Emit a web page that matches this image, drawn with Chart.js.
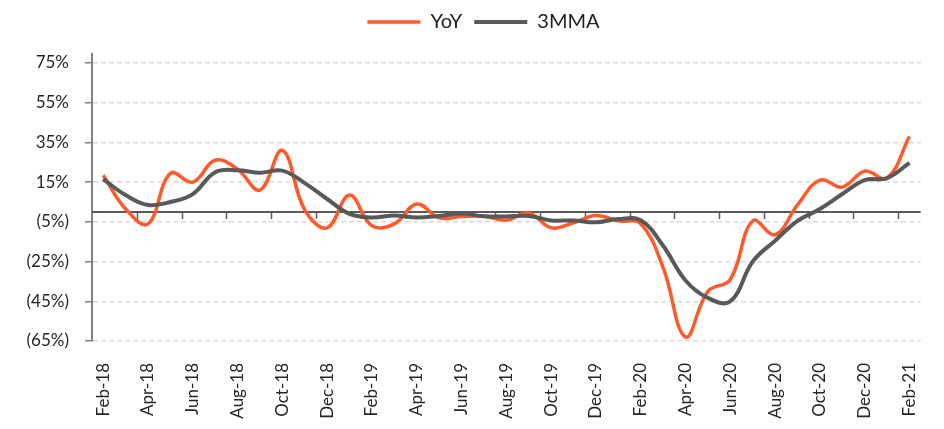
<!DOCTYPE html>
<html>
<head>
<meta charset="utf-8">
<script src="https://cdn.jsdelivr.net/npm/chart.js@4"></script>
<style>
  html, body { margin: 0; padding: 0; background: #fff; }
  #wrap { width: 944px; height: 429px; }
</style>
</head>
<body>
<div id="wrap"><canvas id="chart"></canvas></div>
<script>
// monthly labels, Feb-18 .. Feb-21
const months = [
  "Feb-18", "Mar-18", "Apr-18", "May-18", "Jun-18", "Jul-18", "Aug-18", "Sep-18", "Oct-18", "Nov-18", "Dec-18",
  "Jan-19", "Feb-19", "Mar-19", "Apr-19", "May-19", "Jun-19", "Jul-19", "Aug-19", "Sep-19", "Oct-19", "Nov-19", "Dec-19",
  "Jan-20", "Feb-20", "Mar-20", "Apr-20", "May-20", "Jun-20", "Jul-20", "Aug-20", "Sep-20", "Oct-20", "Nov-20", "Dec-20",
  "Jan-21", "Feb-21"
];

// values in %
const yoy = [
  18.5, 1.5, -6, 19.5, 15, 26, 21.5, 11, 31, 1, -8,
  8.5, -7, -6, 4, -3, -2.3, -2.2, -4.2, -0.5, -8, -5.5, -1.8,
  -4.5, -6, -28, -63, -40, -34, -4.5, -11.5, 3.5, 16, 12.5, 20.5,
  17, 38
];
const mma3 = [
  16.5, 8.5, 3.5, 5, 9, 20, 21, 19.7, 20.8, 14.5, 6.5,
  -1, -2.8, -1.8, -2.8, -2, -0.8, -2.2, -2.3, -2, -4.3, -4.3, -5.2,
  -3.6, -4.2, -17, -34.5, -43.3, -45, -25, -14.5, -4.5, 1.5, 9, 16,
  17, 24.7
];

const yTicks = [-65, -45, -25, -5, 15, 35, 55, 75];

const ORANGE = "#FF5A2B";
const GREY = "#595959";
const FONT = "Lato, 'Noto Sans', sans-serif";

// extra room under the legend, and centre it a bit to the right
const legendGap = {
  id: "legendGap",
  beforeInit(chart) {
    const fit = chart.legend.fit;
    chart.legend.fit = function () {
      fit.call(this);
      this.height += 21;
    };
  },
  afterLayout(chart) {
    chart.legend.left += 32;
  }
};

// zero line with tick marks every 2 months (acts as the category axis)
const zeroAxis = {
  id: "zeroAxis",
  beforeDatasetsDraw(chart) {
    const { ctx, chartArea, scales } = chart;
    const xs = scales.x, ys = scales.y;
    const y0 = ys.getPixelForValue(0);
    ctx.save();
    ctx.strokeStyle = GREY;
    ctx.lineWidth = 2;
    ctx.beginPath();
    ctx.moveTo(chartArea.left, y0);
    ctx.lineTo(chartArea.right, y0);
    ctx.stroke();
    ctx.lineWidth = 1.5;
    ctx.beginPath();
    for (let i = 2; i < months.length; i += 2) {
      const x = Math.round((xs.getPixelForValue(i) + xs.getPixelForValue(i - 1)) / 2) + 0.5;
      ctx.moveTo(x, y0);
      ctx.lineTo(x, y0 + 7);
    }
    ctx.stroke();
    // y axis runs a little above the top gridline
    ctx.strokeStyle = "#808080";
    ctx.lineWidth = 2;
    ctx.beginPath();
    ctx.moveTo(chartArea.left, chartArea.top - 10);
    ctx.lineTo(chartArea.left, chartArea.top);
    ctx.stroke();
    ctx.restore();
  }
};

new Chart(document.getElementById("chart"), {
  type: "line",
  data: {
    labels: months,
    datasets: [
      {
        label: "YoY",
        data: yoy,
        borderColor: ORANGE,
        backgroundColor: ORANGE,
        borderWidth: 3.5,
        pointRadius: 0,
        tension: 0.4,
        order: 2,
      },
      {
        label: "3MMA",
        data: mma3,
        borderColor: GREY,
        backgroundColor: GREY,
        borderWidth: 4,
        pointRadius: 0,
        tension: 0.4,
        order: 1,
      },
    ],
  },
  options: {
    responsive: true,
    maintainAspectRatio: false,
    animation: false,
    layout: { padding: { top: 0, right: 9, bottom: 0, left: 0 } },
    plugins: {
      tooltip: { enabled: false },
      legend: {
        position: "top",
        labels: {
          usePointStyle: true,
          pointStyle: "line",
          pointStyleWidth: 53,
          padding: 12,
          color: "#222",
          font: { family: FONT, size: 20 },
          sort: (a, b) => a.datasetIndex - b.datasetIndex,
        },
      },
    },
    scales: {
      x: {
        type: "category",
        offset: true,
        grid: { display: false },
        border: { display: false },
        ticks: {
          autoSkip: false,
          minRotation: 90,
          maxRotation: 90,
          padding: 14,
          color: "#262626",
          font: { family: FONT, size: 17 },
          callback: function (value, index) {
            return index % 2 === 0 ? this.getLabelForValue(value) : "";
          },
        },
        afterFit: (scale) => { scale.height = 88; },
      },
      y: {
        min: -65,
        max: 75,
        afterBuildTicks: (scale) => { scale.ticks = yTicks.map((v) => ({ value: v })); },
        grid: {
          color: "#d9d9d9",
          lineWidth: 1.5,
          tickLength: 7,
          tickColor: "#808080",
          tickBorderDash: [],
          tickWidth: 1.5,
        },
        border: { display: true, color: "#808080", width: 2, dash: [5, 3] },
        ticks: {
          padding: 16,
          color: "#262626",
          font: { family: FONT, size: 17 },
          callback: (v) => (v < 0 ? "(" + Math.abs(v) + "%)" : v + "%"),
        },
        afterFit: (scale) => { scale.width = 92; },
      },
    },
  },
  plugins: [legendGap, zeroAxis],
});
</script>
</body>
</html>
